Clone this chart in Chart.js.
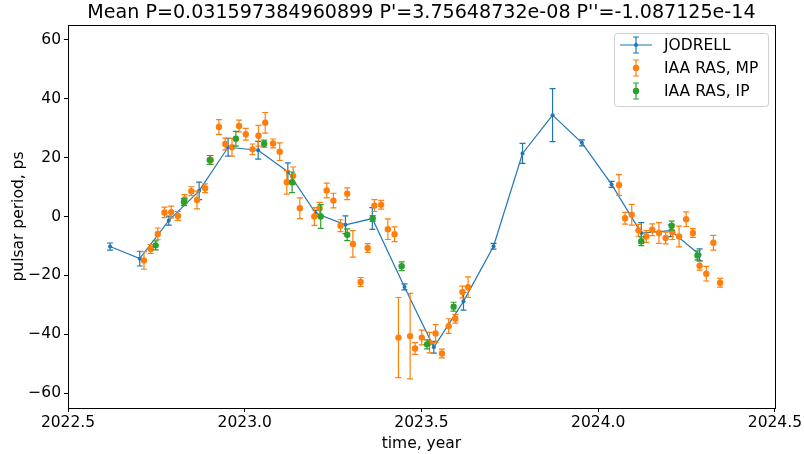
<!DOCTYPE html>
<html>
<head>
<meta charset="utf-8">
<script src="https://cdn.jsdelivr.net/npm/chart.js@4/dist/chart.umd.min.js"></script>
<style>
  body { margin: 0; background: #fff; }
</style>
</head>
<body>
<canvas id="chart1" width="804" height="454"></canvas>
<script>
// JODRELL timing points
const jodrellT = [2022.619, 2022.703, 2022.785, 2022.871, 2022.953, 2023.038, 2023.122, 2023.201, 2023.285, 2023.361,
    2023.452, 2023.535, 2023.619, 2023.704, 2023.786, 2023.871, 2023.954, 2024.038, 2024.122, 2024.205, 2024.287];
const jodrellP = [-10.2, -14.3, -1.4, 8.7, 23.5, 22.5, 15.2, 1.1, -2.8, -0.7,
    -23.9, -44.4, -28.8, -10.1, 21.4, 34.4, 25.0, 10.9, -5.6, -4.8, -13.0];
const jodrellErr = [1.2, 2.5, 1.5, 3.0, 3.0, 3.0, 3.0, 1.0, 3.0, 3.7,
    1.0, 2.0, 3.0, 1.0, 3.4, 9.0, 1.0, 1.0, 3.5, 2.0, 2.0];

// IAA RAS, main pulse
const mpT = [2022.715, 2022.734, 2022.754, 2022.773, 2022.792, 2022.811, 2022.830, 2022.849, 2022.865, 2022.888,
    2022.904, 2022.927, 2022.945, 2022.964, 2022.984, 2023.003, 2023.022, 2023.039, 2023.058, 2023.080,
    2023.099, 2023.119, 2023.137, 2023.156, 2023.197, 2023.212, 2023.232, 2023.251, 2023.271, 2023.290,
    2023.306, 2023.328, 2023.348, 2023.367, 2023.386, 2023.405, 2023.424, 2023.435, 2023.468, 2023.482,
    2023.501, 2023.523, 2023.540, 2023.558, 2023.577, 2023.596, 2023.616, 2023.632, 2024.059, 2024.076,
    2024.095, 2024.114, 2024.136, 2024.153, 2024.172, 2024.191, 2024.210, 2024.229, 2024.249, 2024.268,
    2024.287, 2024.306, 2024.326, 2024.345];
const mpP = [-14.9, -11.0, -5.9, 1.4, 1.5, 0.2, 5.9, 8.6, 5.6, 9.6,
    19.2, 30.4, 24.6, 23.5, 30.7, 27.9, 22.8, 27.4, 31.8, 24.8,
    22.0, 11.6, 13.8, 2.8, 0.0, 2.8, 8.8, 5.4, -3.1, 7.7,
    -9.3, -22.2, -10.7, 3.7, 4.0, -4.3, -6.0, -41.1, -40.6, -44.8,
    -41.1, -42.8, -39.7, -46.5, -37.2, -34.7, -25.6, -24.0, 10.7, -0.6,
    0.6, -4.7, -6.8, -4.5, -5.6, -7.3, -5.3, -6.8, -0.9, -5.6,
    -16.7, -19.4, -8.9, -22.5];
const mpErr = [3.0, 1.5, 2.0, 1.8, 2.0, 1.5, 1.5, 1.5, 3.0, 1.5,
    1.5, 2.5, 2.0, 3.0, 2.0, 2.0, 1.8, 3.5, 3.5, 1.5,
    3.0, 4.0, 3.0, 3.5, 3.0, 2.0, 2.5, 2.5, 2.0, 2.0,
    4.5, 1.5, 1.5, 2.0, 1.5, 3.5, 2.5, 13.6, 14.5, 2.0,
    2.5, 3.5, 3.0, 1.5, 2.5, 1.5, 2.0, 3.5, 3.5, 2.0,
    3.5, 2.0, 2.0, 2.0, 3.5, 2.0, 2.5, 3.5, 2.5, 1.5,
    1.5, 2.5, 2.5, 1.5];

// IAA RAS, interpulse
const ipT = [2022.748, 2022.828, 2022.901, 2022.975, 2023.055, 2023.134, 2023.215, 2023.290, 2023.362, 2023.444,
    2023.516, 2023.591, 2024.122, 2024.208, 2024.281];
const ipP = [-9.8, 4.9, 19.2, 26.4, 24.7, 11.6, 0.0, -6.2, -0.7, -16.9,
    -43.4, -30.6, -8.4, -3.1, -13.2];
const ipErr = [1.5, 1.2, 1.5, 2.5, 1.2, 3.5, 4.0, 2.0, 1.0, 1.5,
    1.5, 1.5, 1.5, 1.5, 1.5];

const xTicks = [2022.5, 2023.0, 2023.5, 2024.0, 2024.5];
const yTicks = [-60, -40, -20, 0, 20, 40, 60];

const titleText = "Mean P=0.031597384960899 P'=3.75648732e-08 P''=-1.087125e-14";
const FONT = "'DejaVu Sans', sans-serif";

function points(t, p) {
    return t.map((v, i) => ({x: v, y: p[i]}));
}

function minus(s) {
    return String(s).replace('-', '\u2212');
}

// error bars drawn just before each dataset, so markers sit on top
const errorBars = {
    id: 'errorBars',
    beforeDatasetDraw(chart, args) {
        const ds = chart.data.datasets[args.index];
        if (!ds.errors) return;
        const ctx = chart.ctx;
        const yScale = chart.scales.y;
        ctx.save();
        ctx.strokeStyle = ds.borderColor;
        ctx.lineWidth = 1.2;
        args.meta.data.forEach((pt, i) => {
            const y = ds.data[i].y;
            const top = yScale.getPixelForValue(y + ds.errors[i]);
            const bot = yScale.getPixelForValue(y - ds.errors[i]);
            ctx.beginPath();
            ctx.moveTo(pt.x, top);
            ctx.lineTo(pt.x, bot);
            ctx.moveTo(pt.x - 3, top);
            ctx.lineTo(pt.x + 3, top);
            ctx.moveTo(pt.x - 3, bot);
            ctx.lineTo(pt.x + 3, bot);
            ctx.stroke();
        });
        ctx.restore();
    }
};

// frame round the plot, title over the plot area and matplotlib style legend
const frameAndLegend = {
    id: 'frameAndLegend',
    afterDraw(chart) {
        const ctx = chart.ctx;
        const a = chart.chartArea;
        ctx.save();
        ctx.strokeStyle = '#000';
        ctx.lineWidth = 1;
        ctx.strokeRect(Math.round(a.left) + 0.5, Math.round(a.top) + 0.5,
            Math.round(a.right - a.left), Math.round(a.bottom - a.top));

        ctx.fillStyle = '#000';
        ctx.font = '19.1px ' + FONT;
        ctx.textAlign = 'center';
        ctx.textBaseline = 'middle';
        ctx.fillText(titleText, (a.left + a.right) / 2, 13);

        const bx = 614, by = 33, bw = 154, bh = 73;
        ctx.beginPath();
        ctx.roundRect(bx + 0.5, by + 0.5, bw, bh, 3);
        ctx.fillStyle = 'rgba(255,255,255,0.8)';
        ctx.fill();
        ctx.strokeStyle = '#d0d0d0';
        ctx.stroke();

        ctx.font = '15.5px ' + FONT;
        ctx.textAlign = 'left';
        chart.data.datasets.forEach((ds, i) => {
            const cy = 45 + i * 23;
            const cx = 636;
            ctx.strokeStyle = ds.borderColor;
            ctx.fillStyle = ds.borderColor;
            ctx.lineWidth = 1.2;
            ctx.beginPath();
            if (ds.showLine) {
                ctx.moveTo(cx - 16, cy);
                ctx.lineTo(cx + 16, cy);
            }
            ctx.moveTo(cx, cy - 8);
            ctx.lineTo(cx, cy + 8);
            ctx.moveTo(cx - 3, cy - 8);
            ctx.lineTo(cx + 3, cy - 8);
            ctx.moveTo(cx - 3, cy + 8);
            ctx.lineTo(cx + 3, cy + 8);
            ctx.stroke();
            ctx.beginPath();
            ctx.arc(cx, cy, ds.pointRadius, 0, Math.PI * 2);
            ctx.fill();
            ctx.fillStyle = '#000';
            ctx.fillText(ds.label, 664, cy + 1);
        });
        ctx.restore();
    }
};

const data = {
    datasets: [{
        label: 'JODRELL',
        data: points(jodrellT, jodrellP),
        errors: jodrellErr,
        showLine: true,
        borderColor: '#1f77b4',
        backgroundColor: '#1f77b4',
        borderWidth: 1.2,
        pointRadius: 2,
        pointBorderWidth: 0,
        order: 3
    },
    {
        label: 'IAA RAS, MP',
        data: points(mpT, mpP),
        errors: mpErr,
        borderColor: '#ff7f0e',
        backgroundColor: '#ff7f0e',
        pointRadius: 3.2,
        pointBorderWidth: 0,
        order: 2
    },
    {
        label: 'IAA RAS, IP',
        data: points(ipT, ipP),
        errors: ipErr,
        borderColor: '#2ca02c',
        backgroundColor: '#2ca02c',
        pointRadius: 3.2,
        pointBorderWidth: 0,
        order: 1
    }]
};

const config = {
    type: 'scatter',
    data: data,
    plugins: [errorBars, frameAndLegend],
    options: {
        responsive: false,
        animation: false,
        devicePixelRatio: 1,
        layout: { padding: { top: 25, right: 28, bottom: 0, left: 0 } },
        plugins: {
            legend: { display: false },
            tooltip: { enabled: false },
            title: { display: false }
        },
        scales: {
            x: {
                type: 'linear',
                min: 2022.5,
                max: 2024.5,
                afterBuildTicks: s => { s.ticks = xTicks.map(v => ({value: v})); },
                afterFit: s => { s.height = 46; },
                ticks: {
                    color: '#000',
                    font: { family: FONT, size: 15.5 },
                    padding: 2,
                    maxRotation: 0,
                    callback: v => v.toFixed(1)
                },
                grid: { drawOnChartArea: false, color: '#000', tickLength: 4 },
                border: { color: '#000' },
                title: {
                    display: true,
                    text: 'time, year',
                    color: '#000',
                    font: { family: FONT, size: 15.5 },
                    padding: { top: 0, bottom: 1 }
                }
            },
            y: {
                min: -65,
                max: 65,
                afterBuildTicks: s => { s.ticks = yTicks.map(v => ({value: v})); },
                afterFit: s => { s.width = 68; },
                ticks: {
                    color: '#000',
                    font: { family: FONT, size: 15.5 },
                    padding: 3,
                    callback: v => minus(v)
                },
                grid: { drawOnChartArea: false, color: '#000', tickLength: 4 },
                border: { color: '#000' },
                title: {
                    display: true,
                    text: 'pulsar period, ps',
                    color: '#000',
                    font: { family: FONT, size: 15.5 },
                    padding: { top: 10, bottom: 0 }
                }
            }
        }
    }
};

const myChart = new Chart(document.getElementById('chart1'), config);
</script>
</body>
</html>
